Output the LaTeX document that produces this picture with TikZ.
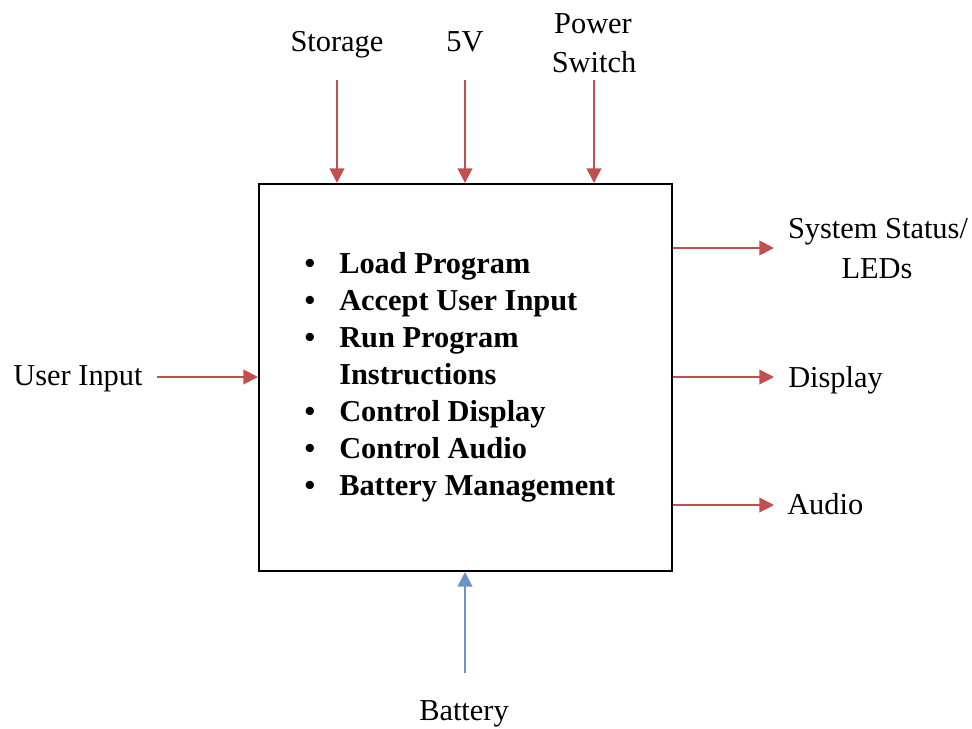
\documentclass[tikz,border=0pt]{standalone}
\usepackage{fontspec}
\setmainfont{Liberation Serif}
\usetikzlibrary{arrows.meta}
\definecolor{arrred}{RGB}{192,80,77}
\definecolor{arrblue}{RGB}{110,145,200}
\begin{document}
\begin{tikzpicture}[x=0.75pt,y=-0.75pt,
  lbl/.style={inner sep=0pt,anchor=base,font=\fontsize{22.8}{29}\selectfont},
  item/.style={inner sep=0pt,anchor=base west,font=\fontsize{22.8}{28}\selectfont\bfseries},
  redarrow/.style={draw=arrred,line width=1.5pt,-{Triangle[length=11pt,width=11pt]},arrred},
  bluearrow/.style={draw=arrblue,line width=1.5pt,-{Triangle[length=11pt,width=11pt]},arrblue},
  mainbox/.style={draw=black,line width=1.5pt,minimum width=309.75pt,minimum height=290.25pt,inner sep=0pt}]
\useasboundingbox (0,0) rectangle (972,729);
\node[mainbox] (box) at (465.5,377.5) {};
% list
\def\bul{\llap{\textbullet\hspace{18pt}}}
\node[item] (i1) at (339,273) {\bul Load Program};
\node[item] (i2) at (339,310) {\bul Accept User Input};
\node[item] (i3) at (339,347) {\bul Run Program};
\node[item] (i3b) at (339,384) {Instructions};
\node[item] (i4) at (339,421) {\bul Control Display};
\node[item] (i5) at (339,458) {\bul Control Audio};
\node[item] (i6) at (339,495) {\bul Battery Management};
% top inputs
\node[lbl] (storage) at (337,51) {Storage};
\node[lbl] (fivev) at (465,51) {5V};
\node[lbl] (power) at (593,33) {Power};
\node[lbl] (switch) at (594,72) {Switch};
\coordinate (sTop) at (337,80);
\coordinate (vTop) at (465,80);
\coordinate (pTop) at (594,80);
\draw[redarrow] (sTop) -- (sTop |- box.north);
\draw[redarrow] (vTop) -- (vTop |- box.north);
\draw[redarrow] (pTop) -- (pTop |- box.north);
% left input
\node[lbl] (user) at (78,385) {User Input};
\coordinate (uL) at (157,377);
\draw[redarrow] (uL) -- (uL -| box.west);
% right outputs
\node[lbl] (status) at (878,238) {System Status/};
\node[lbl] (leds) at (877,278) {LEDs};
\node[lbl,anchor=base west] (display) at (788,387) {Display};
\node[lbl,anchor=base west] (audio) at (787,514) {Audio};
\coordinate (oS) at (774,248);
\coordinate (oD) at (774,377);
\coordinate (oA) at (774,505);
\draw[redarrow] (oS -| box.east) -- (oS);
\draw[redarrow] (oD -| box.east) -- (oD);
\draw[redarrow] (oA -| box.east) -- (oA);
% battery
\node[lbl] (battery) at (464,720) {Battery};
\coordinate (bB) at (465,673);
\draw[bluearrow] (bB) -- (bB |- box.south);
\end{tikzpicture}
\end{document}
